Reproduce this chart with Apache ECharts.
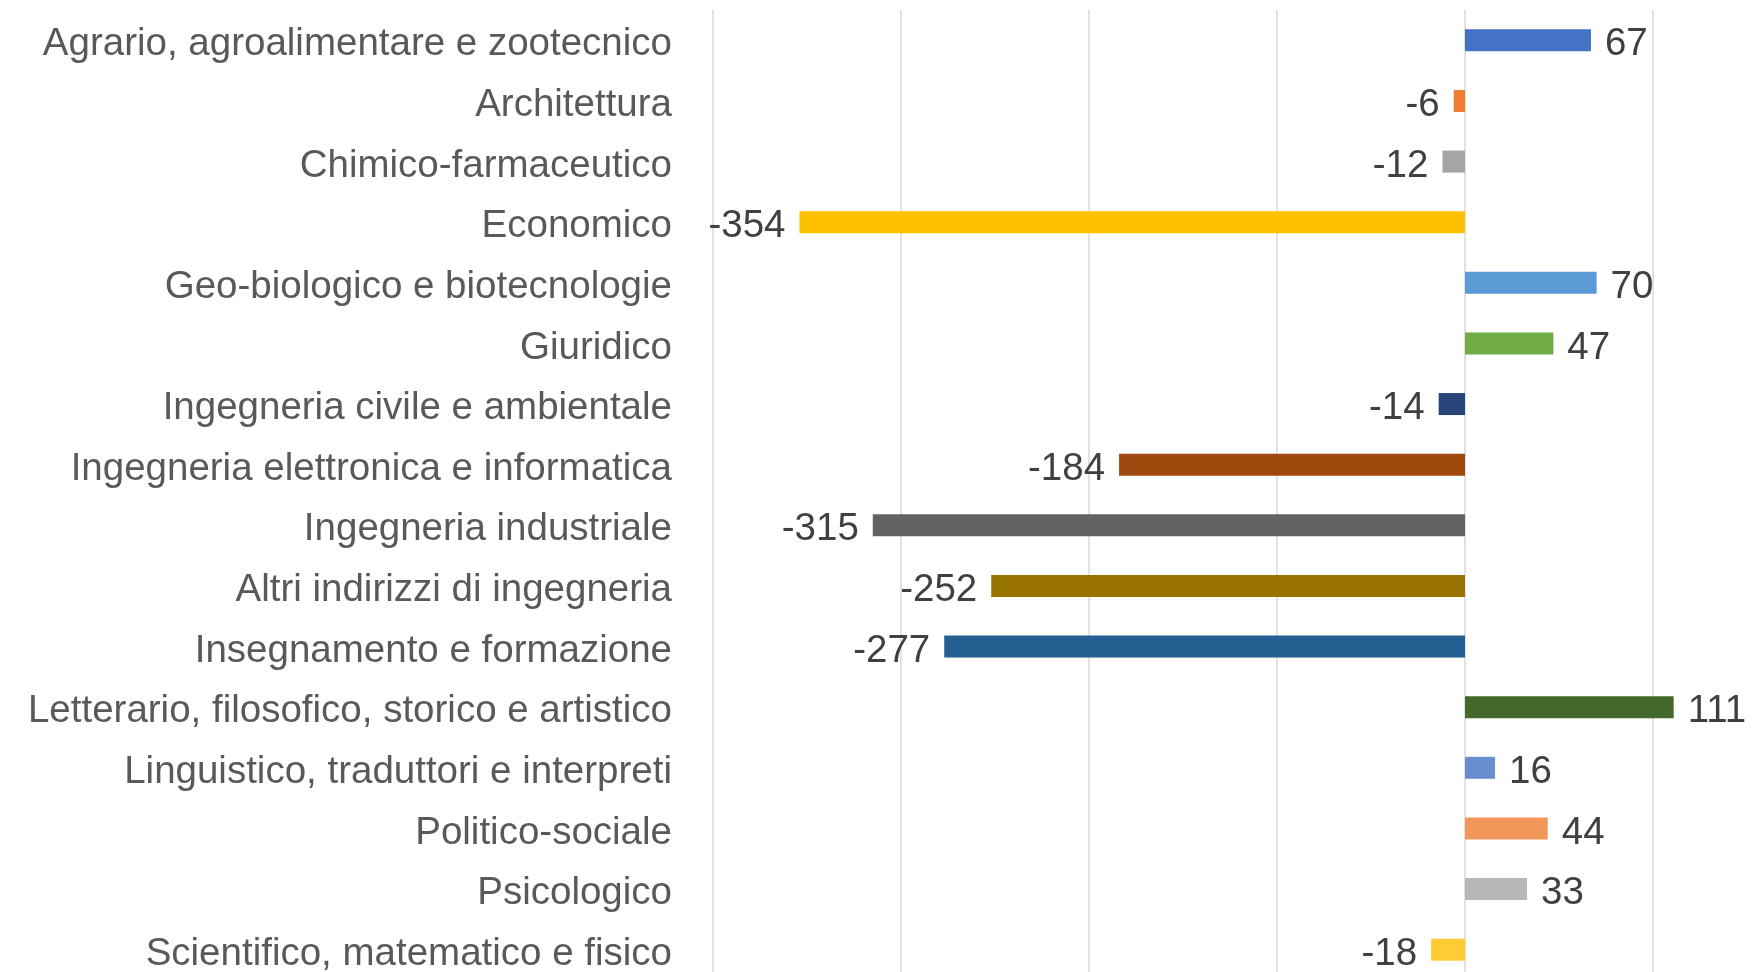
<!DOCTYPE html>
<html>
<head>
<meta charset="utf-8">
<script src="https://cdn.jsdelivr.net/npm/echarts@6/dist/echarts.min.js"></script>
<style>
  html, body { margin: 0; padding: 0; background: #fff; }
  #chart { width: 1756px; height: 972px; }
</style>
</head>
<body>
<div id="chart"></div>
<script>
var categories = [
    'Agrario, agroalimentare e zootecnico',
    'Architettura',
    'Chimico-farmaceutico',
    'Economico',
    'Geo-biologico e biotecnologie',
    'Giuridico',
    'Ingegneria civile e ambientale',
    'Ingegneria elettronica e informatica',
    'Ingegneria industriale',
    'Altri indirizzi di ingegneria',
    'Insegnamento e formazione',
    'Letterario, filosofico, storico e artistico',
    'Linguistico, traduttori e interpreti',
    'Politico-sociale',
    'Psicologico',
    'Scientifico, matematico e fisico'
];
var values = [67, -6, -12, -354, 70, 47, -14, -184, -315, -252, -277, 111, 16, 44, 33, -18];
var barColors = ['#4472C4', '#ED7D31', '#A5A5A5', '#FFC000', '#5B9BD5', '#70AD47', '#264478', '#9E480E',
                 '#636363', '#997300', '#255E91', '#43682B', '#698ED0', '#F1975A', '#B7B7B7', '#FFCD33'];

var myChart = echarts.init(document.getElementById('chart'));
var font = '"Liberation Sans", Arial, sans-serif';

var option = {
    animation: false,
    // the axis runs to 200, but the picture is cut off just after 100
    grid: { left: 713, width: 1128, top: 10, height: 970, outerBoundsMode: 'none', containLabel: false },
    xAxis: {
        type: 'value',
        min: -400,
        max: 200,
        interval: 100,
        axisLabel: { show: false },
        axisTick: { show: false },
        axisLine: { show: false },
        splitLine: { lineStyle: { color: '#d9d9d9', width: 1.5 } }
    },
    yAxis: {
        type: 'category',
        inverse: true,
        data: categories,
        axisLine: { show: false },
        axisTick: { show: false },
        axisLabel: {
            margin: 41,
            formatter: function (v) { return '{t|' + v + '}'; },
            rich: { t: { color: '#595959', fontSize: 38.5, fontFamily: font, padding: [9, 0, 0, 0] } }
        }
    },
    series: [{
        type: 'bar',
        barWidth: 22,
        clip: false,
        data: values.map(function (v, i) {
            return {
                value: v,
                itemStyle: { color: barColors[i] },
                label: { position: v < 0 ? 'left' : 'right' }
            };
        }),
        label: {
            show: true,
            distance: 14,
            formatter: '{t|{c}}',
            rich: { t: { color: '#404040', fontSize: 38.5, fontFamily: font, padding: [9, 0, 0, 0] } }
        }
    }]
};

myChart.setOption(option);
window.addEventListener('resize', function () { myChart.resize(); });
</script>
</body>
</html>
